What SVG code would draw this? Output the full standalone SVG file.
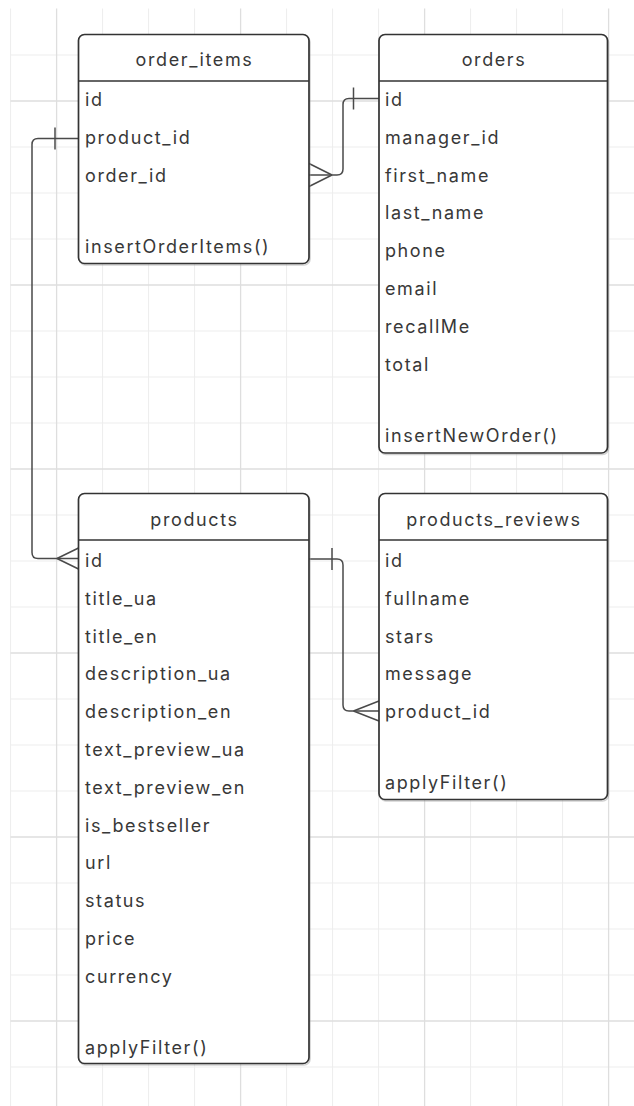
<svg xmlns="http://www.w3.org/2000/svg" width="634" height="1106" viewBox="0 0 634 1106">
  <style>
    .minor { stroke: #ededed; stroke-width: 1; }
    .major { stroke: #dedede; stroke-width: 1.3; }
    .box { fill: #ffffff; stroke: #333333; stroke-width: 1.7; }
    .shadow { fill: none; stroke: #9a9a9a; stroke-width: 1.6; opacity: 0.45; }
    .divider { stroke: #333333; stroke-width: 1.7; }
    .field { font-family: Inter, "Liberation Sans", sans-serif; font-size: 18px; fill: #383838; letter-spacing: 1.6px; }
    .title { font-family: Inter, "Liberation Sans", sans-serif; font-size: 18px; fill: #383838; letter-spacing: 1.6px; text-anchor: middle; }
    .link { fill: none; stroke: #4a4a4a; stroke-width: 1.5; stroke-linejoin: round; }
  </style>

  <!-- background grid -->
  <rect x="0" y="0" width="634" height="1106" fill="#ffffff"/>
  <g id="grid">
    <g class="minor">
      <path d="M10.6,8.5V1106 M102.6,8.5V1106 M148.6,8.5V1106 M194.6,8.5V1106 M286.6,8.5V1106 M332.6,8.5V1106 M378.6,8.5V1106 M470.6,8.5V1106 M516.6,8.5V1106 M562.6,8.5V1106"/>
      <path d="M10.5,55H634 M10.5,147H634 M10.5,193H634 M10.5,239H634 M10.5,331H634 M10.5,377H634 M10.5,423H634 M10.5,515H634 M10.5,561H634 M10.5,607H634 M10.5,699H634 M10.5,745H634 M10.5,791H634 M10.5,883H634 M10.5,929H634 M10.5,975H634 M10.5,1067H634"/>
    </g>
    <g class="major">
      <path d="M56.6,8.5V1106 M240.6,8.5V1106 M424.6,8.5V1106 M608.6,8.5V1106"/>
      <path d="M10.5,101H634 M10.5,285H634 M10.5,469H634 M10.5,653H634 M10.5,837H634 M10.5,1021H634"/>
    </g>
  </g>

  <!-- relationships -->
  <g id="connectors">
    <!-- order_items.product_id to products.id -->
    <path class="link" d="M78.5,138.5 H38 Q32,138.5 32,144.5 V552.5 Q32,558.5 38,558.5 H78.5"/>
    <path class="link" d="M55,127.5 V149.5"/>
    <path class="link" d="M57,558.5 L78.5,548 M57,558.5 L78.5,569"/>
    <!-- orders.id to order_items.order_id -->
    <path class="link" d="M379,98.5 H349 Q343,98.5 343,104.5 V169 Q343,175 337,175 H309"/>
    <path class="link" d="M353.5,87.5 V109.5"/>
    <path class="link" d="M332,175 L309,163.5 M332,175 L309,186.5"/>
    <!-- products.id to products_reviews.product_id -->
    <path class="link" d="M309,559 H337 Q343,559 343,565 V705 Q343,711 349,711 H379"/>
    <path class="link" d="M332,548 V570"/>
    <path class="link" d="M353.5,711 L379,701 M353.5,711 L379,721"/>
  </g>

  <!-- order_items -->
  <g id="order_items">
    <rect class="shadow" x="79.5" y="36" width="230.5" height="229" rx="6"/>
    <rect class="box" x="78.5" y="34.5" width="230.5" height="229" rx="6"/>
    <line class="divider" x1="78.5" y1="81" x2="309" y2="81"/>
    <text class="title" x="194.5" y="65.5">order_items</text>
    <text class="field" x="85" y="106">id</text>
    <text class="field" x="85" y="143.8">product_id</text>
    <text class="field" x="85" y="181.6">order_id</text>
    <text class="field" x="85" y="252.6">insertOrderItems()</text>
  </g>

  <!-- orders -->
  <g id="orders">
    <rect class="shadow" x="380" y="36" width="228.5" height="418.5" rx="6"/>
    <rect class="box" x="379" y="34.5" width="228.5" height="418.5" rx="6"/>
    <line class="divider" x1="379" y1="81" x2="607.5" y2="81"/>
    <text class="title" x="494" y="65.5">orders</text>
    <text class="field" x="385" y="106">id</text>
    <text class="field" x="385" y="143.8">manager_id</text>
    <text class="field" x="385" y="181.6">first_name</text>
    <text class="field" x="385" y="219.4">last_name</text>
    <text class="field" x="385" y="257.2">phone</text>
    <text class="field" x="385" y="295">email</text>
    <text class="field" x="385" y="332.8">recallMe</text>
    <text class="field" x="385" y="370.6">total</text>
    <text class="field" x="385" y="441.8">insertNewOrder()</text>
  </g>

  <!-- products -->
  <g id="products">
    <rect class="shadow" x="79.5" y="495" width="230.5" height="570" rx="6"/>
    <rect class="box" x="78.5" y="493.5" width="230.5" height="570" rx="6"/>
    <line class="divider" x1="78.5" y1="540" x2="309" y2="540"/>
    <text class="title" x="194.5" y="525.5">products</text>
    <text class="field" x="85" y="567">id</text>
    <text class="field" x="85" y="604.8">title_ua</text>
    <text class="field" x="85" y="642.6">title_en</text>
    <text class="field" x="85" y="680.4">description_ua</text>
    <text class="field" x="85" y="718.2">description_en</text>
    <text class="field" x="85" y="756">text_preview_ua</text>
    <text class="field" x="85" y="793.8">text_preview_en</text>
    <text class="field" x="85" y="831.6">is_bestseller</text>
    <text class="field" x="85" y="869.4">url</text>
    <text class="field" x="85" y="907.2">status</text>
    <text class="field" x="85" y="945">price</text>
    <text class="field" x="85" y="982.8">currency</text>
    <text class="field" x="85" y="1053.8">applyFilter()</text>
  </g>

  <!-- products_reviews -->
  <g id="products_reviews">
    <rect class="shadow" x="380" y="495" width="228.5" height="306" rx="6"/>
    <rect class="box" x="379" y="493.5" width="228.5" height="306" rx="6"/>
    <line class="divider" x1="379" y1="540" x2="607.5" y2="540"/>
    <text class="title" x="494" y="525.5">products_reviews</text>
    <text class="field" x="385" y="567">id</text>
    <text class="field" x="385" y="604.8">fullname</text>
    <text class="field" x="385" y="642.6">stars</text>
    <text class="field" x="385" y="680.4">message</text>
    <text class="field" x="385" y="718.2">product_id</text>
    <text class="field" x="385" y="789.2">applyFilter()</text>
  </g>
</svg>
